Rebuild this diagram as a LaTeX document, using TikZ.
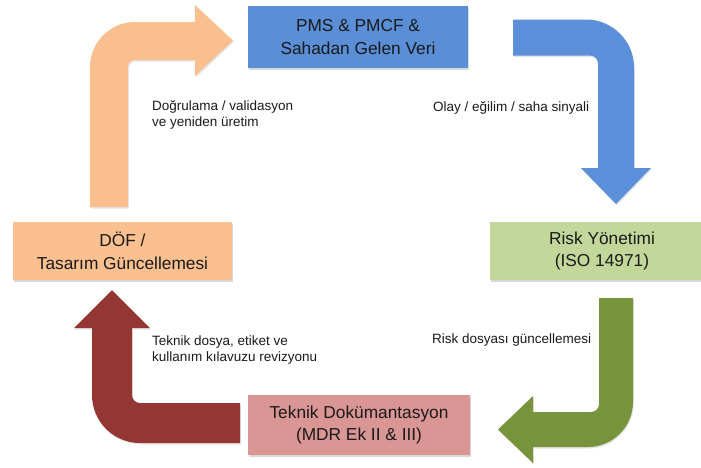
\documentclass[tikz,border=0pt]{standalone}
\usepackage{fontspec}
\setmainfont{Liberation Sans}
\usetikzlibrary{shadows}
\definecolor{boxblue}{HTML}{5A8ED6}
\definecolor{arrblue}{HTML}{5B8FD9}
\definecolor{boxgreen}{HTML}{C4D79B}
\definecolor{arrgreen}{HTML}{77933C}
\definecolor{boxpink}{HTML}{D99694}
\definecolor{arrred}{HTML}{943634}
\definecolor{boxorange}{HTML}{FAC090}
\definecolor{arrorange}{HTML}{F9BF8E}
\definecolor{txt}{HTML}{1A1A1A}
\tikzset{
  procbox/.style={rectangle, draw=none, inner sep=0pt, align=center,
    text=txt, font=\fontsize{17.3}{22.5}\selectfont,
    drop shadow={shadow xshift=0.8pt, shadow yshift=-2pt, opacity=0.3}},
  lbl/.style={inner sep=0pt, align=left, anchor=west, text=txt,
    font=\fontsize{13.5}{16.5}\selectfont},
  bentarrow/.style={drop shadow={shadow xshift=0.8pt, shadow yshift=-1.5pt, opacity=0.2}}
}
\begin{document}
\begin{tikzpicture}[x=1pt,y=-1pt]
\useasboundingbox (0,0) rectangle (701,467);
\fill[white] (0,0) rectangle (701,467);

% boxes
\node[procbox, fill=boxblue, minimum width=220pt, minimum height=62pt] (pms) at (358,37)
  {PMS \& PMCF \&\\Sahadan Gelen Veri};
\node[procbox, fill=boxgreen, minimum width=224pt, minimum height=58pt] (risk) at (602,251)
  {Risk Yönetimi\\(ISO 14971)};
\node[procbox, fill=boxpink, minimum width=222pt, minimum height=60pt] (tek) at (359,425)
  {Teknik Dokümantasyon\\(MDR Ek II \& III)};
\node[procbox, fill=boxorange, minimum width=219pt, minimum height=58pt] (dof) at (122.5,251)
  {DÖF /\\Tasarım Güncellemesi};

% bent arrows
\fill[arrblue, bentarrow] (513,19.5) -- (586,19.5) .. controls (612.5,19.5) and (634,41) .. (634,67.5)
  -- (634,168) -- (651,168) -- (616,204) -- (581,168) -- (598,168) -- (598,63.5)
  .. controls (598,59.1) and (594.4,55.5) .. (590,55.5) -- (513,55.5) -- cycle;

\fill[arrgreen, bentarrow] (599,298) -- (633,298) -- (633,402) .. controls (633,426.8) and (612.8,447) .. (588,447)
  -- (533,447) -- (533,463) -- (498,429.5) -- (533,396) -- (533,412) -- (591,412)
  .. controls (595.4,412) and (599,408.4) .. (599,404) -- cycle;

\fill[arrred, bentarrow] (240,403) -- (140,403) .. controls (135.6,403) and (132,399.4) .. (132,395)
  -- (132,328) -- (150,328) -- (112,290) -- (74,328) -- (92,328) -- (92,395)
  .. controls (92,421.5) and (113.5,443) .. (140,443) -- (240,443) -- cycle;

\fill[arrorange, bentarrow] (90,207) -- (90,67) .. controls (90,42.2) and (110.2,22) .. (135,22)
  -- (195,22) -- (195,5) -- (233,40.5) -- (195,76) -- (195,60) -- (135,60)
  .. controls (131.1,60) and (128,63.1) .. (128,67) -- (128,207) -- cycle;

% labels
\node[lbl] (l1) at (152,115) {Doğrulama / validasyon\\ve yeniden üretim};
\node[lbl] (l2) at (433,108) {Olay / eğilim / saha sinyali};
\node[lbl] (l3) at (432,340) {Risk dosyası güncellemesi};
\node[lbl] (l4) at (152,350) {Teknik dosya, etiket ve\\kullanım kılavuzu revizyonu};
\end{tikzpicture}
\end{document}
